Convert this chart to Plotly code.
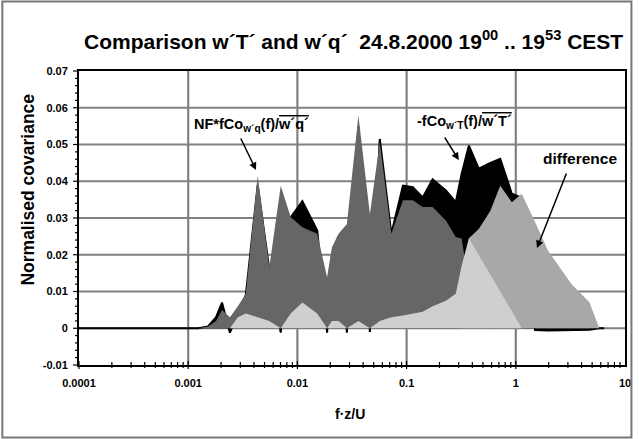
import math
import plotly.graph_objects as go

# Normalised frequency f*z/U (shared grid of the digitised vertices)
freq = [0.0001, 0.000435, 0.00124, 0.00152, 0.0018, 0.00204, 0.00241, 0.00285,
        0.00337, 0.00433, 0.00553, 0.00704, 0.00868, 0.0111, 0.0152, 0.0187,
        0.0207, 0.0238, 0.0284, 0.0362, 0.0461, 0.0568, 0.0725, 0.0926,
        0.114, 0.1405, 0.173, 0.229, 0.282, 0.319, 0.372, 0.458, 0.585,
        0.72, 0.92, 1.133, 1.5, 1.975, 3.22, 4.72, 5.81, 6.45]

# -fCo_wT(f)/w'T'  (black)
co_wT = [0, 0, 0, 0.0005, 0.003, 0.007, -0.0012, 0.004,
         0.009, 0.039, 0.016, -0.0012, 0.0302, 0.0346, 0.0266, -0.0012,
         0.020, 0.025, -0.0012, 0.055, -0.001, 0.0515, 0.0257, 0.0388,
         0.0384, 0.0356, 0.0405, 0.0375, 0.0343, 0.042, 0.0497, 0.0434, 0.045,
         0.0461, 0.0366, 0.0355, -0.0005, -0.0006, -0.0006, -0.0004, 0, 0]

# NF*fCo_wq(f)/w'q'  (dark grey)
co_wq = [0, 0, 0, 0.0005, 0.002, 0.005, 0.003, 0.006,
         0.0094, 0.0415, 0.0166, 0.0388, 0.0302, 0.0275, 0.0257, 0.0139,
         0.022, 0.0257, 0.0284, 0.0579, 0.0311, 0.0506, 0.0257, 0.0348,
         0.0348, 0.033, 0.033, 0.0293, 0.0248, 0.0244, 0.012, 0.003, 0,
         0, 0, 0, 0, 0, 0, 0, 0, 0]

# difference (medium grey)
difference = [0, 0, 0, 0, 0, 0, 0, 0,
              0, 0, 0, 0, 0, 0, 0, 0,
              0, 0, 0, 0, 0, 0, 0, 0,
              0, 0, 0, 0, 0, 0, 0.0245, 0.027, 0.032,
              0.0388, 0.0343, 0.0366, 0.0289, 0.0211, 0.0121, 0.0071, 0, 0]

# unlabelled light grey area (front)
light = [0, 0, 0, 0, 0, 0, 0, 0.003,
         0.004, 0.003, 0.002, 0, 0.004, 0.007, 0.004, 0,
         0.002, 0.002, 0, 0.002, 0, 0.002, 0.003, 0.0035,
         0.004, 0.0045, 0.006, 0.0075, 0.0094, 0.017, 0.0245, 0.0199, 0.0145,
         0.0100, 0.0046, 0, 0, 0, 0, 0, 0, 0]

x_tickvals = [0.0001, 0.001, 0.01, 0.1, 1, 10]
x_ticktext = ["0.0001", "0.001", "0.01", "0.1", "1", "10"]
y_tickvals = [-0.01, 0, 0.01, 0.02, 0.03, 0.04, 0.05, 0.06, 0.07]
y_ticktext = ["-0.01", "0", "0.01", "0.02", "0.03", "0.04", "0.05", "0.06", "0.07"]

FONT = "Liberation Sans, Arial, sans-serif"
GRID = "#808080"
XMIN, XMAX = -4, 1
YMIN, YMAX = -0.01, 0.07

L, R, T, B = 79, 631, 71, 365
W, H = R - L, B - T
def px(x):
    return (x - L) / W
def py(y):
    return (B - y) / H
def xfrac(v):
    return (math.log10(v) - XMIN) / (XMAX - XMIN)
def yfrac(v):
    return (v - YMIN) / (YMAX - YMIN)

fig = go.Figure()
fig.add_trace(go.Scatter(x=freq, y=co_wT, mode="lines", fill="tozeroy",
                         line=dict(color="#000000", width=2), fillcolor="#000000"))
fig.add_trace(go.Scatter(x=freq, y=co_wq, mode="lines", fill="tozeroy",
                         line=dict(color="#666666", width=0), fillcolor="#666666"))
fig.add_trace(go.Scatter(x=freq, y=difference, mode="lines", fill="tozeroy",
                         line=dict(color="#a8a8a8", width=0), fillcolor="#a8a8a8"))
fig.add_trace(go.Scatter(x=freq, y=light, mode="lines", fill="tozeroy",
                         line=dict(color="#cfcfcf", width=0), fillcolor="#cfcfcf"))

shapes = []
# grid lines as thin filled bars (behind the areas)
for v in y_tickvals[1:-1]:
    yf = yfrac(v)
    shapes.append(dict(type="rect", xref="paper", yref="paper", x0=0, x1=1,
                       y0=yf - 1.1 / H, y1=yf + 1.1 / H,
                       fillcolor=GRID, line=dict(width=0), layer="below"))
for v in x_tickvals[1:-1]:
    xf = xfrac(v)
    shapes.append(dict(type="rect", xref="paper", yref="paper", x0=xf - 1.1 / W, x1=xf + 1.1 / W,
                       y0=0, y1=1, fillcolor=GRID, line=dict(width=0), layer="below"))
# tick marks as small filled bars
for d in range(XMIN, XMAX):
    for m in range(1, 10):
        xf = xfrac(m * 10 ** d)
        half = 4 if m == 1 else 3
        shapes.append(dict(type="rect", xref="paper", yref="paper",
                           x0=xf - 0.6 / W, x1=xf + 0.6 / W, y0=-half / H, y1=half / H,
                           fillcolor="black", line=dict(width=0), layer="above"))
for k in range(41):
    yf = yfrac(YMIN + k * 0.002)
    ln = 6 if k % 5 == 0 else 4
    shapes.append(dict(type="rect", xref="paper", yref="paper",
                       x0=-ln / W, x1=0, y0=yf - 0.6 / H, y1=yf + 0.6 / H,
                       fillcolor="black", line=dict(width=0), layer="above"))
# outer frame of the picture
shapes.append(dict(type="rect", xref="paper", yref="paper",
                   x0=px(1.5), x1=px(637.5), y0=py(437.5), y1=py(1.5),
                   line=dict(color="#777777", width=2), layer="above"))

ann = []
ann.append(dict(text="<b>Comparison w´T´ and w´q´  24.8.2000 19<sup>00</sup> .. 19<sup>53</sup> CEST</b>",
                x=px(357), y=py(40), xref="paper", yref="paper", showarrow=False,
                font=dict(family=FONT, size=21, color="black"), xanchor="center", yanchor="middle"))
ann.append(dict(text="<b>Normalised covariance</b>", textangle=-90,
                x=px(27), y=py(190), xref="paper", yref="paper", showarrow=False,
                font=dict(family=FONT, size=17.5, color="black"), xanchor="center", yanchor="middle"))
ann.append(dict(text="<b>f·z/U</b>",
                x=px(353), y=py(414), xref="paper", yref="paper", showarrow=False,
                font=dict(family=FONT, size=14, color="black"), xanchor="center", yanchor="middle"))
ann.append(dict(text="<b>NF*fCo<sub>w´q</sub>(f)/<span style='text-decoration:overline'>w´q´</span></b>",
                x=px(253), y=py(125), xref="paper", yref="paper", showarrow=False,
                font=dict(family=FONT, size=14.5, color="black"), xanchor="center", yanchor="middle"))
ann.append(dict(text="<b>-fCo<sub>w´T</sub>(f)/<span style='text-decoration:overline'>w´T´</span></b>",
                x=px(469), y=py(122), xref="paper", yref="paper", showarrow=False,
                font=dict(family=FONT, size=14.5, color="black"), xanchor="center", yanchor="middle"))
ann.append(dict(text="<b>difference</b>",
                x=px(585), y=py(158), xref="paper", yref="paper", showarrow=False,
                font=dict(family=FONT, size=15.5, color="black"), xanchor="center", yanchor="middle"))
for hx, hy, tx, ty in [(258, 170, 242, 137), (463, 160, 448, 136), (542, 248, 572, 172)]:
    ann.append(dict(text="", x=px(hx), y=py(hy), xref="paper", yref="paper",
                    showarrow=True, ax=tx - hx, ay=ty - hy, arrowhead=2, arrowsize=1,
                    arrowwidth=1.5, arrowcolor="black"))

axis_common = dict(showgrid=False, zeroline=False,
                   showline=True, linecolor="black", linewidth=2, mirror=True,
                   ticks="", ticklabelstandoff=7,
                   tickfont=dict(family=FONT, size=11, color="black", weight="bold"))

fig.update_layout(
    width=639, height=439,
    margin=dict(l=L, r=639 - R, t=T, b=439 - B),
    paper_bgcolor="white", plot_bgcolor="white",
    showlegend=False,
    annotations=ann,
    shapes=shapes,
    xaxis=dict(type="log", range=[XMIN, XMAX], tickvals=x_tickvals, ticktext=x_ticktext,
               **axis_common),
    yaxis=dict(range=[YMIN, YMAX], tickvals=y_tickvals, ticktext=y_ticktext,
               **axis_common),
)

fig.write_html("out.html")
